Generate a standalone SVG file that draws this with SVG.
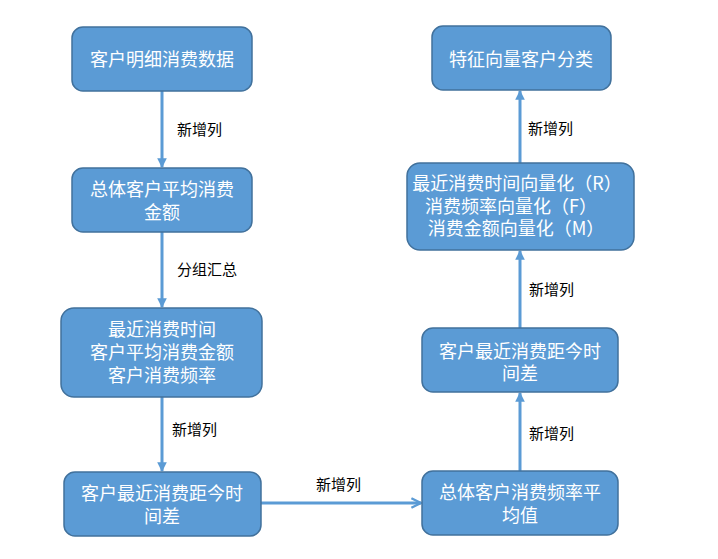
<svg xmlns="http://www.w3.org/2000/svg" width="718" height="559" viewBox="0 0 718 559">
<style>
.box{fill:#5B9BD5;stroke:#41719C;stroke-width:1.5}
.nt{font-family:"Noto Sans CJK SC","Liberation Sans",sans-serif;font-size:18px;fill:#FFFFFF;text-anchor:middle}
.lb{font-family:"Noto Sans CJK SC","Liberation Sans",sans-serif;font-size:15px;fill:#000000}
.ln{stroke:#5B9BD5;stroke-width:3;fill:none}
</style>
<defs>
<marker id="tri" viewBox="0 0 10 10" refX="9" refY="5" markerWidth="3.2" markerHeight="3.2" orient="auto" markerUnits="strokeWidth">
<path d="M0,0 L10,5 L0,10 z" fill="#5B9BD5"/>
</marker>
<marker id="open" viewBox="0 0 10 10" refX="9" refY="5" markerWidth="4" markerHeight="4" orient="auto" markerUnits="strokeWidth">
<path d="M1,1 L9,5 L1,9" fill="none" stroke="#5B9BD5" stroke-width="2"/>
</marker>
</defs>
<rect width="718" height="559" fill="#FFFFFF"/>
<g id="connectors">
<line class="ln" x1="162" y1="91" x2="162" y2="167" marker-end="url(#tri)"/>
<line class="ln" x1="162" y1="232" x2="162" y2="307" marker-end="url(#tri)"/>
<line class="ln" x1="162" y1="397" x2="162" y2="471" marker-end="url(#tri)"/>
<line class="ln" x1="261" y1="503" x2="421" y2="503" marker-end="url(#open)"/>
<line class="ln" x1="520" y1="471" x2="520" y2="393" marker-end="url(#tri)"/>
<line class="ln" x1="520" y1="328" x2="520" y2="251" marker-end="url(#tri)"/>
<line class="ln" x1="520" y1="163" x2="520" y2="91" marker-end="url(#tri)"/>
<text class="lb" x="177" y="135">新增列</text>
<text class="lb" x="177" y="275">分组汇总</text>
<text class="lb" x="172" y="435">新增列</text>
<text class="lb" x="316" y="490">新增列</text>
<text class="lb" x="529" y="439">新增列</text>
<text class="lb" x="529" y="295">新增列</text>
<text class="lb" x="528" y="134">新增列</text>
</g>
<g id="n1">
<rect class="box" x="72" y="27" width="180" height="64" rx="11"/>
<text class="nt" x="162" y="66">客户明细消费数据</text>
</g>
<g id="n2">
<rect class="box" x="72" y="168" width="180" height="64" rx="11"/>
<text class="nt" x="162" y="196">总体客户平均消费</text>
<text class="nt" x="162" y="219">金额</text>
</g>
<g id="n3">
<rect class="box" x="61" y="308" width="201" height="89" rx="13"/>
<text class="nt" x="162" y="336">最近消费时间</text>
<text class="nt" x="162" y="359">客户平均消费金额</text>
<text class="nt" x="162" y="382">客户消费频率</text>
</g>
<g id="n4">
<rect class="box" x="64" y="472" width="197" height="64" rx="11"/>
<text class="nt" x="162" y="500">客户最近消费距今时</text>
<text class="nt" x="162" y="523">间差</text>
</g>
<g id="n5">
<rect class="box" x="422" y="471" width="196" height="64" rx="11"/>
<text class="nt" x="520" y="499">总体客户消费频率平</text>
<text class="nt" x="520" y="522">均值</text>
</g>
<g id="n6">
<rect class="box" x="422" y="328" width="196" height="64" rx="11"/>
<text class="nt" x="520" y="358">客户最近消费距今时</text>
<text class="nt" x="520" y="380">间差</text>
</g>
<g id="n7">
<rect class="box" x="407" y="163" width="227" height="87" rx="13"/>
<text class="nt" x="517" y="190">最近消费时间向量化（R）</text>
<text class="nt" x="511" y="213">消费频率向量化（F）</text>
<text class="nt" x="516" y="235">消费金额向量化（M）</text>
</g>
<g id="n8">
<rect class="box" x="432" y="26" width="179" height="64" rx="11"/>
<text class="nt" x="521" y="66">特征向量客户分类</text>
</g>
</svg>
